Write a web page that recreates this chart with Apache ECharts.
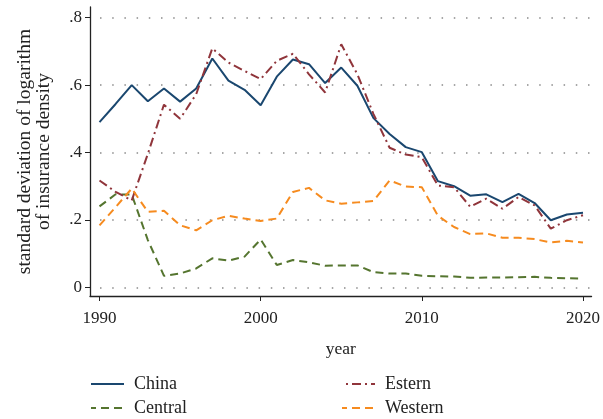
<!DOCTYPE html>
<html>
<head>
<meta charset="utf-8">
<script src="https://cdn.jsdelivr.net/npm/echarts@6/dist/echarts.min.js"></script>
<style>html,body{margin:0;padding:0;background:#fff}#chart{width:603px;height:419px}</style>
</head>
<body>
<div id="chart"></div>
<script>
const years = [1990,1991,1992,1993,1994,1995,1996,1997,1998,1999,2000,2001,2002,2003,2004,2005,2006,2007,2008,2009,2010,2011,2012,2013,2014,2015,2016,2017,2018,2019,2020];
const china   = [0.490,0.544,0.600,0.552,0.590,0.551,0.590,0.679,0.613,0.586,0.540,0.625,0.676,0.662,0.606,0.652,0.598,0.502,0.455,0.416,0.401,0.315,0.300,0.272,0.276,0.253,0.277,0.250,0.199,0.216,0.221];
const estern  = [0.317,0.283,0.258,0.396,0.542,0.500,0.573,0.709,0.667,0.642,0.618,0.672,0.693,0.632,0.578,0.721,0.632,0.514,0.414,0.394,0.386,0.302,0.297,0.239,0.263,0.233,0.268,0.243,0.174,0.199,0.214];
const central = [0.240,0.276,0.275,0.140,0.034,0.041,0.056,0.086,0.079,0.091,0.142,0.066,0.081,0.074,0.064,0.065,0.065,0.045,0.041,0.041,0.034,0.033,0.032,0.028,0.029,0.029,0.030,0.031,0.028,0.027,0.026];
const western = [0.184,0.238,0.293,0.224,0.227,0.184,0.169,0.199,0.212,0.204,0.197,0.204,0.283,0.295,0.258,0.248,0.252,0.256,0.317,0.299,0.297,0.212,0.179,0.158,0.160,0.147,0.147,0.143,0.133,0.138,0.133];
const yTicks = [0,0.2,0.4,0.6,0.8];
const yTickLabels = ['0','.2','.4','.6','.8'];
const xTicks = [1990,2000,2010,2020];
const xTickLabels = ['1990','2000','2010','2020'];

const FONT = '"Liberation Serif", "DejaVu Serif", serif';
const TXT = '#222';
const colors = {China:'#1a476f', Estern:'#90353b', Central:'#55752f', Western:'#f68b1f'};

function mk(name, arr, type){
  return {
    name, type:'line', data: years.map((y,i)=>[y,arr[i]]),
    symbol:'none', smooth:false,
    lineStyle:{color:colors[name], width:2, type:type},
    itemStyle:{color:colors[name]}
  };
}
function lg(name, left, top){
  return {data:[name], left, top, itemWidth:33, itemHeight:14, padding:0,
    itemStyle:{opacity:0},
    textStyle:{fontFamily:FONT, fontSize:18, color:TXT, padding:[0,0,0,5]}};
}

const chart = echarts.init(document.getElementById('chart'), null, {renderer:'canvas'});
chart.setOption({
  animation:false,
  backgroundColor:'#fff',
  textStyle:{fontFamily:FONT},
  grid:{left:90, top:7, right:9.5, bottom:123, containLabel:false},
  xAxis:{
    type:'value', min:1989.41, max:2020.53,
    name:'year', nameLocation:'middle', nameGap:44,
    nameTextStyle:{fontFamily:FONT, fontSize:17.5, color:TXT},
    axisLine:{show:true, onZero:false, lineStyle:{color:TXT, width:1.3}},
    axisTick:{show:true, length:5, customValues:xTicks, lineStyle:{color:TXT}},
    axisLabel:{customValues:xTicks, fontFamily:FONT, fontSize:17, color:TXT, margin:14,
      formatter:v=>xTickLabels[xTicks.indexOf(v)] ?? ''},
    splitLine:{show:false}
  },
  yAxis:{
    type:'value', min:-0.0258, max:0.8317,
    name:'standard deviation of logarithm\nof insurance density', nameLocation:'middle', nameRotate:90, nameGap:37,
    nameTextStyle:{fontFamily:FONT, fontSize:19.5, color:TXT, lineHeight:19},
    axisLine:{show:true, onZero:false, lineStyle:{color:TXT, width:1.3}},
    axisTick:{show:true, length:5, customValues:yTicks, lineStyle:{color:TXT}},
    axisLabel:{customValues:yTicks, fontFamily:FONT, fontSize:17, color:TXT, margin:8,
      formatter:v=>{const i=yTicks.findIndex(t=>Math.abs(t-v)<1e-9); return i>=0?yTickLabels[i]:'';}},
    splitLine:{show:true, lineStyle:{color:'#8a8a8a', width:1.5, type:[1.5,10.7], dashOffset:-10}}
  },
  legend:[
    lg('China', 90, 375),
    lg('Central', 90, 399),
    lg('Estern', 341, 375),
    lg('Western', 341, 399)
  ],
  series:[
    mk('China', china, 'solid'),
    mk('Central', central, [8,5]),
    mk('Estern', estern, [9,4,2,4]),
    mk('Western', western, [8,5])
  ]
});
</script>
</body>
</html>
